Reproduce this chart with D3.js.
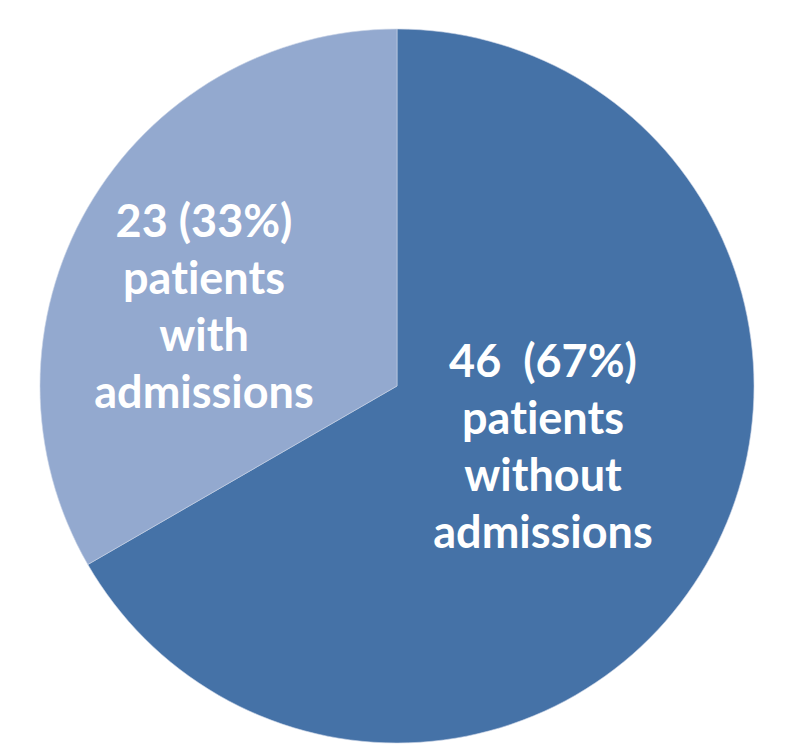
<!DOCTYPE html>
<html><head><meta charset="utf-8">
<script src="https://cdn.jsdelivr.net/npm/d3@7"></script>
<style>body{margin:0;background:#fff}svg{display:block}text{font-variant-ligatures:none;font-feature-settings:"liga" 0}</style>
</head><body>
<svg id="c" width="786" height="744"></svg>
<script>
const categories = ["patients without admissions", "patients with admissions"];
const values = [46, 23];
const percents = ["67%", "33%"];
const labelLines = [
  ["46  (67%)", "patients", "without", "admissions"],
  ["23 (33%)", "patients", "with", "admissions"]
];
const colors = ["#4572A7", "#93A9CF"];

const W = 786, H = 744;
const cx = 397, cy = 386, R = 357;
const svg = d3.select("#c");
const g = svg.append("g").attr("transform", `translate(${cx},${cy})`);

const pie = d3.pie().sort(null).value(d => d);
const arcs = pie(values);
const arc = d3.arc().innerRadius(0).outerRadius(R);

g.selectAll("path").data(arcs).join("path")
  .attr("d", arc)
  .attr("fill", (d, i) => colors[i])
  .attr("stroke", "#c9d4e6").attr("stroke-width", 0.6);

// label block centres relative to pie centre
const labelOffsets = [[146, 60], [-193, -80]];
const lineH = 57;
const fs = 45;
arcs.forEach((a, i) => {
  const lines = labelLines[i];
  const [ox, oy] = labelOffsets[i];
  const t = g.append("text")
    .attr("text-anchor", "middle")
    .attr("fill", "#ffffff")
    .attr("font-family", "Lato, 'Open Sans', sans-serif")
    .attr("font-weight", 700)
    .attr("font-size", fs)
    .style("white-space", "pre")
    .attr("xml:space", "preserve");
  lines.forEach((ln, j) => {
    t.append("tspan")
      .attr("x", ox)
      .attr("y", oy + (j - (lines.length - 1) / 2) * lineH + fs * 0.36)
      .text(ln);
  });
});
</script>
</body></html>
